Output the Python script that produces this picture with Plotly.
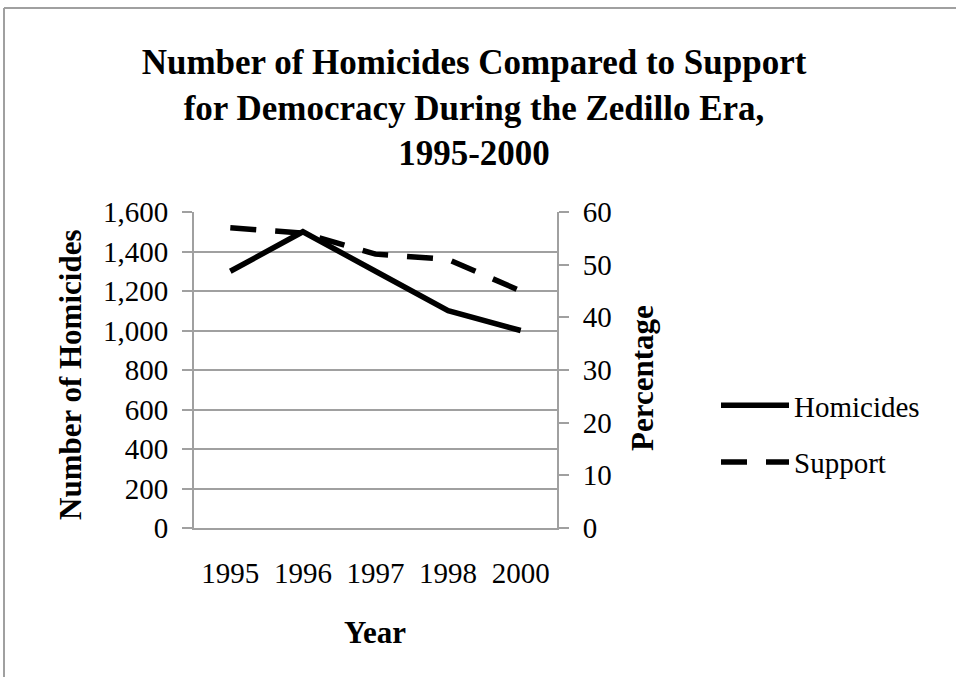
import plotly.graph_objects as go

years = ["1995", "1996", "1997", "1998", "2000"]
homicides = [1300, 1500, 1300, 1100, 1000]
support = [57, 56, 52, 51, 45]

W, H = 956, 677
L, R, T, B = 194, 557, 212, 528  # plot area in px
pw, ph = R - L, B - T

def px_x(x):
    return (x - L) / pw

def px_y(y):
    return (B - y) / ph

FONT = "Liberation Serif"
GRID = "#a0a0a0"
TICK = 29

fig = go.Figure()
fig.add_trace(go.Scatter(
    x=years, y=homicides, name="Homicides", mode="lines",
    line=dict(color="black", width=5.5), legendgroup="a", yaxis="y"))
fig.add_trace(go.Scatter(
    x=years, y=support, name="Support", mode="lines",
    line=dict(color="black", width=5.5, dash="26px,19px"), legendgroup="b", yaxis="y2"))

fig.update_layout(
    width=W, height=H,
    margin=dict(l=L, r=W - R, t=T, b=H - B, autoexpand=False),
    paper_bgcolor="white", plot_bgcolor="white",
    font=dict(family=FONT, color="black", size=TICK),
    title=dict(
        text="Number of Homicides Compared to Support<br>for Democracy During the Zedillo Era,<br>1995-2000",
        x=474 / W, xanchor="center", xref="container",
        y=1 - 74 / H, yanchor="middle", yref="container",
        font=dict(family=FONT, size=35, weight="bold", color="black")),
    xaxis=dict(type="category", range=[-0.5, 4.5], showgrid=False,
               showline=True, linecolor=GRID, linewidth=2, ticks="",
               tickfont=dict(size=TICK), ticklabelstandoff=18, zeroline=False),
    yaxis=dict(range=[0, 1600], dtick=200, tickformat=",d", showgrid=True,
               gridcolor=GRID, gridwidth=2, showline=True, linecolor=GRID,
               linewidth=2, ticks="outside", ticklen=10, tickcolor=GRID,
               tickwidth=2, tickfont=dict(size=TICK), ticklabelstandoff=8,
               zeroline=False),
    yaxis2=dict(range=[0, 60], dtick=10, overlaying="y", side="right",
                showgrid=False, showline=True, linecolor=GRID, linewidth=2,
                ticks="outside", ticklen=10, tickcolor=GRID, tickwidth=2,
                tickfont=dict(size=TICK), ticklabelstandoff=8, zeroline=False),
    legend=dict(x=716 / W, xref="container", xanchor="left",
                y=1 - 380 / H, yref="container", yanchor="top",
                font=dict(size=TICK), tracegroupgap=16, traceorder="grouped",
                itemwidth=68, bgcolor="rgba(0,0,0,0)"),
    showlegend=True,
)

fig.add_annotation(text="<b>Number of Homicides</b>", textangle=-90,
                   x=px_x(70), y=px_y(375), xref="paper", yref="paper",
                   xanchor="center", yanchor="middle",
                   showarrow=False, font=dict(size=31, family=FONT))
fig.add_annotation(text="<b>Percentage</b>", textangle=-90,
                   x=px_x(642), y=px_y(378), xref="paper", yref="paper",
                   xanchor="center", yanchor="middle",
                   showarrow=False, font=dict(size=31, family=FONT))
fig.add_annotation(text="<b>Year</b>",
                   x=px_x(375), y=px_y(632), xref="paper", yref="paper",
                   xanchor="center", yanchor="middle",
                   showarrow=False, font=dict(size=31, family=FONT))

# chart border (top and left edges visible)
fig.add_shape(type="line", xref="paper", yref="paper",
              x0=px_x(4), y0=px_y(8), x1=px_x(960), y1=px_y(8),
              line=dict(color=GRID, width=2))
fig.add_shape(type="line", xref="paper", yref="paper",
              x0=px_x(4), y0=px_y(8), x1=px_x(4), y1=px_y(690),
              line=dict(color=GRID, width=2))

fig.write_html("out.html", config={"displayModeBar": False},
               post_script="document.body.style.margin='0';")
